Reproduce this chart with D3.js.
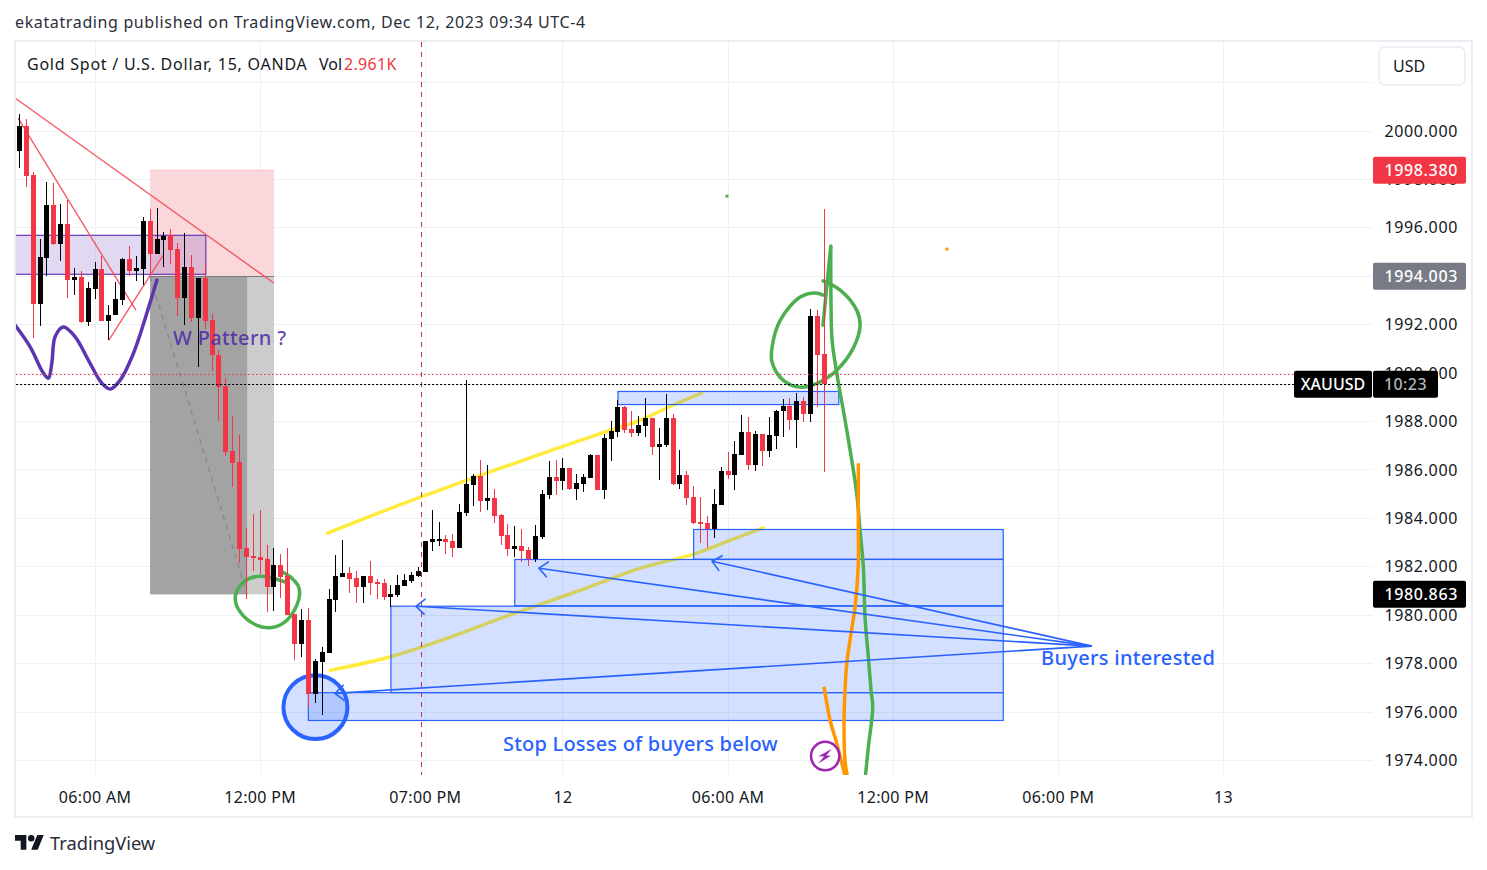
<!DOCTYPE html>
<html><head><meta charset="utf-8">
<script src="https://cdn.jsdelivr.net/npm/d3@7"></script>
<style>html,body{margin:0;padding:0;background:#fff;overflow:hidden}svg{display:block}text{font-family:"Noto Sans",sans-serif}</style>
</head><body><svg id="c" width="1487" height="870"></svg>
<script>
// ---- candle values (price), one entry per 15-minute bar ----
const opens=[1999.19,2000.21,1998.19,1992.87,1994.77,1996.95,1995.35,1996.16,1993.86,1993.97,1992.13,1993.48,1994.31,1992.17,1992.38,1993.02,1994.72,1994.22,1994.31,1996.29,1994.90,1995.50,1995.70,1995.13,1993.12,1994.39,1992.28,1993.93,1992.20,1990.75,1989.46,1986.77,1986.32,1982.77,1982.44,1982.40,1982.31,1981.16,1982.06,1981.61,1980.04,1978.80,1979.79,1976.76,1978.07,1978.43,1980.62,1981.57,1981.73,1981.53,1981.16,1981.61,1981.36,1981.32,1980.74,1980.83,1981.20,1981.40,1981.61,1981.78,1983.01,1983.10,1983.14,1983.06,1982.77,1984.21,1985.37,1985.74,1984.71,1984.83,1984.14,1983.31,1982.73,1982.86,1982.69,1982.32,1983.23,1984.96,1985.71,1985.54,1986.08,1985.21,1985.42,1985.67,1986.62,1985.17,1987.28,1987.57,1988.60,1987.68,1987.52,1987.81,1988.14,1986.94,1987.02,1988.14,1985.41,1985.78,1984.88,1983.84,1983.80,1983.55,1984.55,1985.95,1985.78,1986.61,1987.56,1986.20,1987.48,1986.78,1987.40,1988.43,1988.63,1988.06,1988.84,1988.30,1992.35,1990.78];
const highs=[2000.71,2000.50,1998.30,1995.54,1997.89,1997.84,1996.99,1997.16,1994.35,1994.21,1993.77,1994.58,1994.84,1992.82,1993.77,1994.75,1995.26,1994.84,1996.45,1996.78,1996.83,1995.83,1995.96,1995.38,1995.79,1994.88,1993.93,1994.54,1992.45,1990.96,1989.78,1988.22,1987.43,1983.59,1984.17,1984.34,1982.89,1982.77,1982.52,1982.77,1980.04,1980.25,1980.29,1978.18,1978.68,1981.07,1982.48,1983.10,1981.98,1981.82,1981.61,1982.23,1981.49,1981.49,1981.24,1981.65,1981.69,1981.78,1981.98,1983.06,1984.34,1983.84,1983.30,1983.35,1984.58,1989.71,1985.82,1986.40,1986.20,1985.20,1984.18,1983.77,1983.68,1983.56,1982.81,1983.72,1985.17,1986.37,1986.41,1986.49,1986.08,1985.83,1985.83,1986.66,1986.62,1987.48,1988.02,1988.89,1988.64,1988.43,1988.22,1988.97,1988.14,1987.73,1989.13,1988.30,1986.82,1985.95,1985.33,1984.88,1984.09,1985.21,1986.12,1986.73,1987.19,1988.26,1988.18,1987.60,1987.48,1988.18,1988.47,1988.92,1988.97,1989.17,1989.01,1992.64,1992.60,1996.78];
const lows=[1998.49,1997.67,1991.44,1991.96,1994.03,1995.30,1994.65,1993.12,1993.23,1992.05,1991.96,1993.08,1992.17,1991.37,1992.38,1992.82,1993.99,1993.82,1993.64,1994.06,1994.90,1994.40,1994.51,1992.34,1991.99,1992.09,1990.27,1991.83,1990.09,1988.01,1986.58,1985.30,1982.15,1980.66,1981.82,1981.69,1980.12,1980.16,1980.70,1980.00,1978.14,1978.26,1976.16,1976.38,1975.88,1978.43,1980.12,1981.57,1980.91,1980.49,1980.49,1980.83,1980.66,1980.62,1980.34,1980.74,1981.20,1981.32,1981.57,1981.78,1982.64,1982.85,1982.52,1982.40,1982.77,1984.09,1984.50,1984.25,1984.34,1983.80,1982.90,1982.44,1982.40,1982.20,1982.03,1982.20,1983.15,1984.80,1984.96,1985.17,1985.17,1984.76,1985.09,1985.67,1985.17,1984.80,1986.37,1987.36,1987.52,1987.35,1987.40,1987.35,1986.61,1985.58,1986.94,1985.37,1985.21,1984.55,1983.76,1982.98,1982.77,1983.18,1984.55,1985.62,1985.16,1986.61,1985.99,1985.95,1986.16,1986.53,1986.86,1987.35,1987.64,1986.90,1987.97,1987.97,1988.59,1985.91];
const closes=[2000.21,1998.16,1992.87,1994.80,1996.95,1995.35,1996.16,1993.86,1993.97,1992.13,1993.52,1994.31,1992.17,1992.41,1993.07,1994.72,1994.22,1994.35,1996.29,1994.90,1995.54,1995.67,1995.10,1993.12,1994.39,1992.28,1993.93,1992.17,1990.73,1989.43,1986.75,1986.28,1982.73,1982.40,1982.35,1982.27,1981.16,1982.06,1981.57,1980.00,1978.80,1979.79,1976.76,1978.10,1978.47,1980.66,1981.61,1981.73,1981.49,1981.16,1981.61,1981.32,1981.28,1980.74,1980.87,1981.24,1981.44,1981.65,1981.82,1983.06,1983.14,1983.14,1983.01,1982.77,1984.25,1985.41,1985.74,1984.71,1984.83,1984.09,1983.27,1982.73,1982.86,1982.65,1982.32,1983.27,1985.00,1985.71,1985.54,1986.08,1985.21,1985.46,1985.71,1986.62,1985.17,1987.32,1987.61,1988.60,1987.65,1987.52,1987.85,1988.14,1986.94,1987.07,1988.14,1985.41,1985.78,1984.83,1983.80,1983.80,1983.55,1984.59,1985.95,1985.78,1986.65,1987.56,1986.20,1987.48,1986.78,1987.44,1988.43,1988.63,1988.06,1988.84,1988.30,1992.35,1990.74,1989.54];

// ---- axis ticks ----
const priceTicks=[2002,2000,1998,1996,1994,1992,1990,1988,1986,1984,1982,1980,1978,1976,1974];
const hiddenPriceLabels=[2002];
const timeTickBars=[11,35,59,79,103,127,151,175];
const timeTickLabels=["06:00 AM","12:00 PM","07:00 PM","12","06:00 AM","12:00 PM","06:00 PM","13"];

// ---- price marks ----
const lastPrice=1989.54, prevLine=1989.94, cursorBar=58.45;
const stopPrice=1998.38, entryPrice=1994.003, targetPrice=1980.863;
const positionBars=[19,37], positionFillEnd=33.1;

// ---- drawings, [bar, price] ----
const zonePurple=[-0.6,27.1,1995.69,1994.08];
const zonesBlue=[[87,119.1,1989.24,1988.70],[98.0,143.0,1983.54,1982.31],[72,143.0,1982.30,1980.39],[54,143.0,1980.37,1976.80],[42.0,143.0,1976.80,1975.65]];
const trendLines=[[[-0.63,2001.36],[36.97,1993.72]],[[-0.19,2000.53],[16.93,1992.60]],[[13.0,1991.36],[20.9,1994.87]]];
const curvePurple=[[-0.63,1991.98],[1.56,1991.08],[3.49,1990.00],[4.22,1989.79],[4.71,1990.41],[5.19,1991.50],[6.40,1991.90],[8.10,1991.50],[10.04,1990.53],[11.99,1989.58],[13.19,1989.34],[14.65,1989.71],[16.58,1990.82],[18.53,1992.48],[19.99,1993.84]];
const yellowUpper=[[44.76,1983.39],[51.01,1984.09],[58.58,1984.91],[69.92,1986.07],[78.65,1986.94],[85.92,1987.64],[90.28,1988.06],[94.64,1988.63],[99.12,1989.17]];
const yellowLower=[[45.19,1977.72],[53.92,1978.28],[62.65,1979.09],[69.92,1979.87],[81.56,1981.03],[90.28,1981.94],[98.03,1982.52],[103.37,1983.10],[108.13,1983.61]];
const greenSmall=[[38.65,1981.37],[35.01,1981.61],[32.58,1981.37],[31.37,1980.75],[32.10,1980.13],[34.53,1979.58],[36.71,1979.49],[38.89,1979.79],[40.58,1980.62],[40.58,1981.17],[39.38,1981.58],[38.17,1981.79]];
const greenBig=[[116.8,1993.81],[119.3,1993.43],[121.7,1992.60],[122.2,1991.98],[121.2,1991.03],[118.8,1990.12],[116.4,1989.64],[113.5,1989.42],[111.0,1989.71],[109.4,1990.45],[109.4,1991.07],[110.6,1992.19],[113.5,1993.14],[115.7,1993.31],[116.8,1993.22]];
const greenSpike=[[116.8,1991.98],[117.93,1995.24]];
const greenLine=[[117.93,1995.24],[117.98,1992.60],[118.12,1991.36],[118.8,1990.00],[120.26,1987.64],[121.7,1985.04],[122.18,1983.51],[122.67,1981.99],[122.91,1979.93],[123.39,1978.27],[123.78,1976.90],[124.03,1976.21],[123.39,1974.55],[122.91,1973.18]];
const orangeLong=[[121.94,1986.28],[121.94,1983.51],[121.94,1982.15],[121.46,1980.34],[120.88,1979.25],[120.26,1978.01],[120.0,1976.90],[119.86,1975.54],[120.0,1974.01],[120.58,1972.97]];
const orangeShort=[[116.96,1977.04],[117.83,1975.66],[118.8,1974.71],[119.68,1973.73],[120.3,1973.10]];
const arrowHub=[155.9,1978.72];
const arrowTips=[[75.52,1981.94],[100.68,1982.23],[57.65,1980.37],[45.88,1976.77]];
const blueCircle={c:[43.03,1976.20],edge:[47.68,1977.52]};
const dots=[{p:[102.85,1997.31],k:"g"},{p:[134.83,1995.12],k:"o"}];
const boltAt=[117.12,1974.18];
const notes=[
 {t:"W Pattern ?",p:[22.33,1991.44],k:"w",ls:.35},
 {t:"Buyers interested",p:[148.5,1978.22],k:"b",ls:.3},
 {t:"Stop Losses of buyers below",p:[70.3,1974.67],k:"b",ls:.2}];

// ---- scales ----
const x=d3.scaleLinear().domain([0,175]).range([19.4,1223.4]);
const y=d3.scaleLinear().domain([2000,1976]).range([131,712]);

const svg=d3.select("#c");
const PANE={l:16,r:1373,t:42,b:775};
const LS=0.65;
const crisp=v=>Math.floor(v)+.5;
svg.append("defs").append("clipPath").attr("id","pane").append("rect").attr("x",PANE.l).attr("y",PANE.t).attr("width",PANE.r-PANE.l).attr("height",PANE.b-PANE.t);
svg.append("rect").attr("x",15).attr("y",41).attr("width",1457).attr("height",776).attr("fill","#fff").attr("stroke","#ecedf3").attr("stroke-width",2);

const grid=svg.append("g");
grid.selectAll(".h").data(priceTicks).join("line").attr("x1",PANE.l).attr("x2",PANE.r).attr("y1",d=>crisp(y(d))).attr("y2",d=>crisp(y(d))).attr("stroke","#f0f1f4");
grid.selectAll(".v").data(timeTickBars).join("line").attr("x1",d=>crisp(x(d))).attr("x2",d=>crisp(x(d))).attr("y1",PANE.t).attr("y2",PANE.b).attr("stroke","#f0f1f4");

const pane=svg.append("g").attr("clip-path","url(#pane)");
const P=d=>[x(d[0]),y(d[1])];
const freehand=d3.line().x(d=>x(d[0])).y(d=>y(d[1])).curve(d3.curveCatmullRom.alpha(0.5));
const straight=d3.line().x(d=>x(d[0])).y(d=>y(d[1]));
const box=(g,b0,b1,p0,p1)=>g.append("rect").attr("x",x(b0)).attr("width",x(b1)-x(b0)).attr("y",y(p0)).attr("height",y(p1)-y(p0));

// position tool
box(pane,positionBars[0],positionBars[1],stopPrice,entryPrice).attr("fill","#fad7da");
pane.append("line").attr("x1",x(positionBars[0])).attr("x2",x(positionBars[1])).attr("y1",y(stopPrice)).attr("y2",y(stopPrice)).attr("stroke","#f9bfc4");
box(pane,positionBars[0],positionBars[1],entryPrice,targetPrice).attr("fill","#cccccc");
box(pane,positionBars[0],positionFillEnd,entryPrice,targetPrice).attr("fill","#a3a3a3");
pane.append("line").attr("x1",x(positionBars[0])).attr("x2",x(positionBars[1])).attr("y1",crisp(y(entryPrice))).attr("y2",crisp(y(entryPrice))).attr("stroke","#787b86");
pane.append("line").attr("x1",x(positionBars[0])).attr("y1",y(entryPrice)).attr("x2",x(positionFillEnd)).attr("y2",y(targetPrice)).attr("stroke","#83858c").attr("stroke-width",1.2).attr("stroke-dasharray","5 5");

// purple zone
box(pane,zonePurple[0],zonePurple[1],zonePurple[2],zonePurple[3]).attr("fill","#673ab7").attr("fill-opacity",.2).attr("stroke","#673ab7").attr("stroke-width",1.2);

// yellow curves under the blue zones
pane.selectAll(".yl").data([yellowUpper,yellowLower]).join("path").attr("d",freehand).attr("fill","none").attr("stroke","#ffeb3b").attr("stroke-width",3.5).attr("stroke-linecap","round");

// blue zones
pane.selectAll(".zb").data(zonesBlue).join("rect").attr("x",d=>x(d[0])).attr("width",d=>x(d[1])-x(d[0])).attr("y",d=>y(d[2])).attr("height",d=>y(d[3])-y(d[2])).attr("fill","#2962ff").attr("fill-opacity",.2).attr("stroke","#2962ff").attr("stroke-width",1.2);

// trend lines
pane.selectAll(".tl").data(trendLines).join("path").attr("d",straight).attr("fill","none").attr("stroke","#f5535f").attr("stroke-width",1.3);

// cursor line
pane.append("line").attr("x1",crisp(x(cursorBar))).attr("x2",crisp(x(cursorBar))).attr("y1",PANE.t).attr("y2",PANE.b).attr("stroke","#b8354f").attr("stroke-width",1).attr("stroke-dasharray","5 5");

// freehand
pane.append("path").attr("d",freehand(curvePurple)).attr("fill","none").attr("stroke","#5e35b1").attr("stroke-width",3.5).attr("stroke-linecap","round");
pane.selectAll(".gr").data([greenSmall,greenBig,greenLine]).join("path").attr("d",freehand).attr("fill","none").attr("stroke","#4caf50").attr("stroke-width",3.5).attr("stroke-linecap","round").attr("stroke-linejoin","round");
pane.append("path").attr("d",straight(greenSpike)).attr("fill","none").attr("stroke","#4caf50").attr("stroke-width",3.5).attr("stroke-linecap","round");
pane.selectAll(".or").data([orangeLong,orangeShort]).join("path").attr("d",freehand).attr("fill","none").attr("stroke","#ff9800").attr("stroke-width",3.5).attr("stroke-linecap","butt");

// arrows
const hub=P(arrowHub);
arrowTips.forEach(t=>{
  const e=P(t), a=Math.atan2(hub[1]-e[1],hub[0]-e[0]), L=12, s=.72;
  const g=pane.append("g").attr("stroke","#2962ff").attr("fill","none").attr("stroke-width",1.6);
  g.append("line").attr("x1",hub[0]).attr("y1",hub[1]).attr("x2",e[0]).attr("y2",e[1]);
  g.append("polyline").attr("points",[[e[0]+L*Math.cos(a-s),e[1]+L*Math.sin(a-s)],e,[e[0]+L*Math.cos(a+s),e[1]+L*Math.sin(a+s)]].map(q=>q.join(",")).join(" "));
});

// blue circle
pane.append("ellipse").attr("cx",x(blueCircle.c[0])).attr("cy",y(blueCircle.c[1])).attr("rx",x(blueCircle.edge[0])-x(blueCircle.c[0])).attr("ry",y(blueCircle.c[1])-y(blueCircle.edge[1])).attr("fill","#2962ff").attr("fill-opacity",.2).attr("stroke","#2962ff").attr("stroke-width",4);

// price dotted lines
const guide=svg.append("g");
guide.append("line").attr("x1",PANE.l).attr("x2",1295).attr("y1",crisp(y(prevLine))).attr("y2",crisp(y(prevLine))).attr("stroke","#f23645").attr("stroke-dasharray","1.5 2.5");
guide.append("line").attr("x1",PANE.l).attr("x2",1295).attr("y1",crisp(y(lastPrice))).attr("y2",crisp(y(lastPrice))).attr("stroke","#10246b").attr("stroke-opacity",.3).attr("stroke-dasharray","1 3").attr("stroke-dashoffset",2);
guide.append("line").attr("x1",PANE.l).attr("x2",1295).attr("y1",crisp(y(lastPrice))).attr("y2",crisp(y(lastPrice))).attr("stroke","#000").attr("stroke-dasharray","2 2");

// candles
const bars=d3.range(opens.length).map(i=>({i,o:opens[i],h:highs[i],l:lows[i],c:closes[i]}));
const col=d=>d.c>=d.o?"#000000":"#f23645";
const cg=pane.append("g").attr("shape-rendering","crispEdges");
cg.selectAll(".w").data(bars).join("line").attr("x1",d=>crisp(x(d.i))).attr("x2",d=>crisp(x(d.i))).attr("y1",d=>y(d.h)).attr("y2",d=>y(d.l)).attr("stroke",col).attr("stroke-width",1);
cg.selectAll(".b").data(bars).join("rect").attr("x",d=>Math.floor(x(d.i))-2).attr("width",5).attr("y",d=>y(Math.max(d.o,d.c))).attr("height",d=>Math.max(2,Math.abs(y(d.o)-y(d.c)))).attr("fill",col);

// dots
pane.selectAll(".dot").data(dots).join("rect").attr("x",d=>x(d.p[0])-1.5).attr("y",d=>y(d.p[1])-1.5).attr("width",3).attr("height",3).attr("fill",d=>d.k==="g"?"#4caf50":"#ff9800");

// bolt
const bx=x(boltAt[0]),by=y(boltAt[1]);
const bolt=pane.append("g").attr("transform",`translate(${bx},${by})`);
bolt.append("circle").attr("r",14.2).attr("fill","#fff").attr("fill-opacity",.5).attr("stroke","#9c27b0").attr("stroke-width",2.5);
bolt.append("path").attr("d","M6.7,-7.3 L-6.7,0.3 L-1,0.5 L-7.3,7.7 L5.7,-0.3 L1,-0.5 Z").attr("fill","#9c27b0");

// notes
svg.selectAll(".note").data(notes).join("text").attr("x",d=>x(d.p[0])).attr("y",d=>y(d.p[1])).attr("dy","0.35em").attr("font-size",20).attr("font-weight",500).attr("letter-spacing",d=>d.ls)
 .attr("fill",d=>d.k==="b"?"#2962ff":"#512da8").attr("fill-opacity",d=>d.k==="b"?1:.9).text(d=>d.t);

// header / footer
const tcol="#131722";
svg.append("text").attr("x",15).attr("y",28).attr("font-size",16).attr("letter-spacing",LS-.02).attr("fill","#2a2e39").text("ekatatrading published on TradingView.com, Dec 12, 2023 09:34 UTC-4");
svg.append("text").attr("x",27).attr("y",69.5).attr("font-size",16).attr("letter-spacing",.76).attr("fill",tcol).text("Gold Spot / U.S. Dollar, 15, OANDA");
svg.append("text").attr("x",319).attr("y",69.5).attr("font-size",16).attr("fill",tcol).text("Vol");
svg.append("text").attr("x",344).attr("y",69.5).attr("font-size",16).attr("letter-spacing",.3).attr("fill","#f23645").text("2.961K");

// price axis labels
const ax=svg.append("g").attr("font-size",16).attr("letter-spacing",LS);
ax.selectAll("text").data(priceTicks.filter(d=>!hiddenPriceLabels.includes(d))).join("text").attr("x",1458).attr("y",d=>y(d)).attr("dy","0.35em").attr("text-anchor","end").attr("fill",tcol).text(d=>d3.format(".3f")(d));

// time axis labels
svg.append("g").attr("font-size",16).attr("letter-spacing",.35).selectAll("text").data(timeTickBars).join("text").attr("x",d=>x(d)).attr("y",797).attr("dy","0.35em").attr("text-anchor","middle").attr("fill",tcol).text((d,i)=>timeTickLabels[i]);

// USD button
svg.append("rect").attr("x",1379).attr("y",47).attr("width",86).attr("height",38).attr("rx",6).attr("fill","#fff").attr("stroke","#e9ebf2").attr("stroke-width",1.5);
svg.append("text").attr("x",1393).attr("y",66).attr("dy","0.35em").attr("font-size",16).attr("fill",tcol).text("USD");

// price tags
const tag=(p,fill,txt)=>{
  svg.append("rect").attr("x",1373).attr("y",y(p)-13.5).attr("width",93).attr("height",27).attr("rx",2).attr("fill",fill);
  svg.append("text").attr("x",1458).attr("y",y(p)).attr("dy","0.35em").attr("text-anchor","end").attr("font-size",16).attr("font-weight",500).attr("letter-spacing",LS).attr("fill","#fff").text(txt);
};
tag(stopPrice,"#f23645",d3.format(".3f")(stopPrice));
tag(entryPrice,"#787b86",d3.format(".3f")(entryPrice));
tag(targetPrice,"#000000",d3.format(".3f")(targetPrice));
svg.append("rect").attr("x",1294).attr("y",y(lastPrice)-13.5).attr("width",78).attr("height",27).attr("rx",2).attr("fill","#000");
svg.append("rect").attr("x",1373).attr("y",y(lastPrice)-13.5).attr("width",65).attr("height",27).attr("rx",2).attr("fill","#000");
svg.append("text").attr("x",1333).attr("y",y(lastPrice)).attr("dy","0.35em").attr("text-anchor","middle").attr("font-size",16).attr("font-weight",500).attr("fill","#fff").text("XAUUSD");
svg.append("text").attr("x",1405.5).attr("y",y(lastPrice)).attr("dy","0.35em").attr("text-anchor","middle").attr("font-size",16).attr("font-weight",500).attr("letter-spacing",.4).attr("fill","#b2b5be").text("10:23");

// logo
const logo=svg.append("g").attr("transform","translate(15,829.4) scale(0.81)").attr("fill","#131722");
logo.append("path").attr("d","M14 25H7V14H0V7h14v18z");
logo.append("path").attr("d","M28 25h-8l7.5-18h8L28 25z");
logo.append("circle").attr("cx",20).attr("cy",11).attr("r",4);
svg.append("text").attr("x",50).attr("y",844).attr("dy","0.35em").attr("font-size",18.3).attr("fill","#2a2e39").text("TradingView");
</script></body></html>
